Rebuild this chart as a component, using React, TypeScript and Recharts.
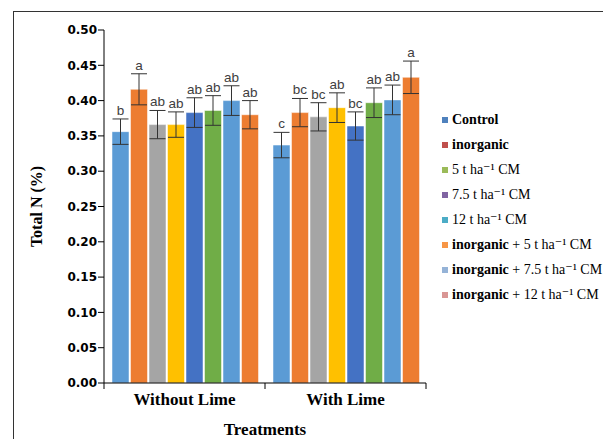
import React from 'react'
import { BarChart, Bar, XAxis, YAxis, ErrorBar, LabelList, Legend } from 'recharts'

const categories = ['Without Lime', 'With Lime']

const seriesNames = [
  'Control',
  'inorganic',
  '5 t ha⁻¹ CM',
  '7.5 t ha⁻¹ CM',
  '12 t ha⁻¹ CM',
  'inorganic + 5 t ha⁻¹ CM',
  'inorganic + 7.5 t ha⁻¹ CM',
  'inorganic + 12 t ha⁻¹ CM',
]

const control = [0.356, 0.337]
const inorganic = [0.416, 0.383]
const cm5 = [0.366, 0.377]
const cm75 = [0.366, 0.39]
const cm12 = [0.383, 0.364]
const inorg5 = [0.386, 0.397]
const inorg75 = [0.4, 0.401]
const inorg12 = [0.38, 0.433]

const controlErr = [0.018, 0.018]
const inorganicErr = [0.022, 0.02]
const cm5Err = [0.02, 0.02]
const cm75Err = [0.018, 0.021]
const cm12Err = [0.021, 0.02]
const inorg5Err = [0.021, 0.021]
const inorg75Err = [0.021, 0.021]
const inorg12Err = [0.02, 0.023]

const lettersWithout = ['b', 'a', 'ab', 'ab', 'ab', 'ab', 'ab', 'ab']
const lettersWith = ['c', 'bc', 'bc', 'ab', 'bc', 'ab', 'ab', 'a']

const yTicks = [0, 0.05, 0.1, 0.15, 0.2, 0.25, 0.3, 0.35, 0.4, 0.45, 0.5]

const barColors = ['#5B9BD5', '#ED7D31', '#A5A5A5', '#FFC000', '#4472C4', '#70AD47', '#5B9BD5', '#ED7D31']
const legendColors = ['#4F81BD', '#C0504D', '#9BBB59', '#8064A2', '#4BACC6', '#F79646', '#95B3D7', '#D99694']

const values = [control, inorganic, cm5, cm75, cm12, inorg5, inorg75, inorg12]
const errors = [controlErr, inorganicErr, cm5Err, cm75Err, cm12Err, inorg5Err, inorg75Err, inorg12Err]
const letters = [lettersWithout, lettersWith]

const data = categories.map((group, i) => {
  const row: Record<string, string | number> = { group }
  values.forEach((v, s) => {
    row['v' + s] = v[i]
    row['e' + s] = errors[s][i]
    row['l' + s] = letters[i][s]
  })
  return row
})

const serif = "'Liberation Serif', 'DejaVu Serif', serif"

function makeLetter(s: number) {
  return (props: any) => {
    const { x, y, width, height, value, index } = props
    const v = values[s][index]
    const err = errors[s][index]
    const top = y - (err * height) / v
    return (
      <text x={x + width / 2} y={top - 4} textAnchor="middle" fontSize={13.5}
        fontFamily="'Liberation Sans', Arial, sans-serif" fill="#404040">
        {value}
      </text>
    )
  }
}

function XTick(props: any) {
  const { x, y, payload } = props
  const half = payload.offset || 80.5
  const axisY = y - 8
  return (
    <g>
      <line x1={x - half} x2={x - half} y1={axisY} y2={axisY + 6} stroke="#000" />
      {payload.index === categories.length - 1 && (
        <line x1={x + half} x2={x + half} y1={axisY} y2={axisY + 6} stroke="#000" />
      )}
      <text x={x} y={y} dy={14} textAnchor="middle" fontSize={17} fontWeight="bold"
        fontFamily={serif} fill="#000">
        {payload.value}
      </text>
    </g>
  )
}

function LegendBox() {
  return (
    <div style={{ fontFamily: serif, fontSize: 14, color: '#000' }}>
      {seriesNames.map((name, i) => {
        const bold = name.startsWith('inorganic') ? 'inorganic' : name === 'Control' ? 'Control' : ''
        return (
          <div key={name} style={{ height: 25, display: 'flex', alignItems: 'center', whiteSpace: 'nowrap' }}>
            <span style={{ width: 6, height: 6, background: legendColors[i], marginRight: 4, display: 'inline-block' }} />
            <span>
              <b>{bold}</b>
              {name.slice(bold.length)}
            </span>
          </div>
        )
      })}
    </div>
  )
}

export default function App() {
  return (
    <div style={{ position: 'absolute', left: 0, top: 0, width: 603, height: 439, overflow: 'hidden', background: '#fff' }}>
      <div style={{ position: 'absolute', left: 13, top: 11, width: 800, height: 600, borderLeft: '1px solid #333', borderTop: '1px solid #333' }} />
      <div style={{ position: 'absolute', left: 0, top: 0 }}>
        <BarChart width={603} height={439} data={data} barCategoryGap={8} barGap={1.5}
          margin={{ top: 30, right: 177, left: 44, bottom: 26 }}>
          <XAxis dataKey="group" axisLine={{ stroke: '#000' }} tickLine={false} tickSize={6}
            tickMargin={2} height={30} tick={<XTick />} interval={0}
            label={{ value: 'Treatments', position: 'insideBottom', offset: -22, fontSize: 17, fontWeight: 'bold', fontFamily: serif, fill: '#000' }} />
          <YAxis domain={[0, 0.5]} ticks={yTicks} width={60} axisLine={{ stroke: '#000' }}
            tickLine={{ stroke: '#000' }} tickSize={6} tickMargin={1} interval={0}
            tickFormatter={(v: number) => v.toFixed(2)}
            tick={{ fontSize: 12, fontWeight: 'bold', fill: '#000', fontFamily: "'DejaVu Sans', sans-serif" }}
            label={{ value: 'Total N (%)', angle: -90, position: 'insideLeft', offset: -8, style: { textAnchor: 'middle' }, fontSize: 16, fontWeight: 'bold', fontFamily: serif, fill: '#000' }} />
          <YAxis yAxisId="r" orientation="right" domain={[0, 0.5]} width={0} tick={false}
            tickLine={false} axisLine={{ stroke: '#bbb' }} />
          {values.map((_, s) => (
            <Bar key={s} dataKey={'v' + s} name={seriesNames[s]} fill={barColors[s]}
              stroke="#fff" strokeWidth={0.5} isAnimationActive={false}>
              <ErrorBar dataKey={'e' + s} width={8} stroke="#333" strokeWidth={1} direction="y" isAnimationActive={false} />
              <LabelList dataKey={'l' + s} content={makeLetter(s)} />
            </Bar>
          ))}
          <Legend layout="vertical" align="center" verticalAlign="middle" content={<LegendBox />}
            wrapperStyle={{ left: 442, top: 107, width: 170 }} />
        </BarChart>
      </div>
    </div>
  )
}
